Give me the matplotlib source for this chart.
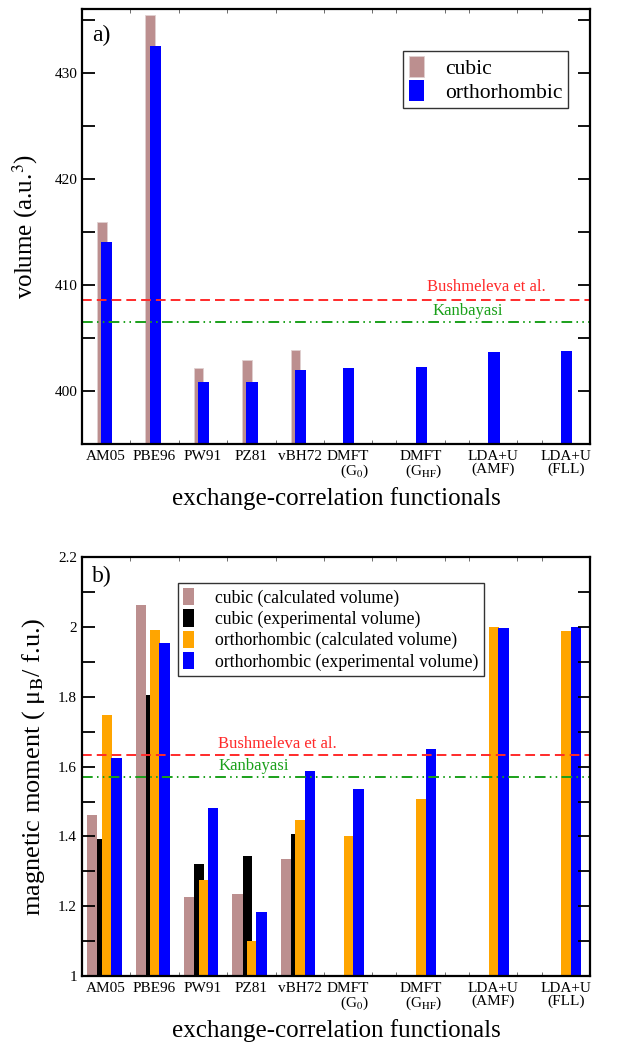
import numpy as np
import matplotlib
matplotlib.use("Agg")
import matplotlib.pyplot as plt
from matplotlib.ticker import MultipleLocator

plt.rcParams['font.family'] = ['Liberation Serif', 'DejaVu Serif']
plt.rcParams['mathtext.fontset'] = 'stix'

# functionals on the x axis
functionals = ["AM05", "PBE96", "PW91", "PZ81", "vBH72",
               "DMFT\n(G$_0$)", "DMFT\n(G$_{\\rm HF}$)", "LDA+U\n(AMF)", "LDA+U\n(FLL)"]
xpos = [1, 2, 3, 4, 5, 6, 7.5, 9, 10.5]

# a) equilibrium volume (a.u.^3), None where not calculated
vol_cubic = [415.9, 435.4, 402.2, 402.9, 403.9, None, None, None, None]
vol_ortho = [414.0, 432.5, 400.85, 400.85, 402.0, 402.15, 402.3, 403.65, 403.75]
vol_bushmeleva = 408.6
vol_kanbayasi = 406.5

# b) magnetic moment (mu_B / f.u.)
mom_cubic_calc = [1.461, 2.063, 1.226, 1.235, 1.334, None, None, None, None]
mom_cubic_exp = [1.393, 1.804, 1.322, 1.344, 1.407, None, None, None, None]
mom_ortho_calc = [1.748, 1.991, 1.275, 1.100, 1.447, 1.401, 1.507, 1.999, 1.989]
mom_ortho_exp = [1.626, 1.954, 1.481, 1.183, 1.587, 1.536, 1.650, 1.996, 2.000]
mom_bushmeleva = 1.633
mom_kanbayasi = 1.569

C_CUBIC = "#bc8f8f"
C_BLACK = "#000000"
C_ORANGE = "#ffa500"
C_BLUE = "#0000ff"
C_RED = "#ff2a2a"
C_GREEN = "#1aa01a"


def bars(ax, values, offset, width, color, label, edge=None):
    xs = [x + offset for x, v in zip(xpos, values) if v is not None]
    vs = [v for v in values if v is not None]
    ax.bar(xs, vs, width=width, align='edge', color=color, label=label,
           edgecolor=edge if edge else color, linewidth=0.6 if edge else 0)


def style_axes(ax):
    ax.set_xlim(0.5, 11.0)
    ax.set_xticks(xpos)
    ax.set_xticklabels(functionals, fontsize=11, linespacing=1.0)
    for lab in ax.get_xticklabels():
        if lab.get_text().startswith("DMFT"):
            lab.set_multialignment('right')
    ax.xaxis.set_minor_locator(MultipleLocator(0.5))
    ax.tick_params(axis='x', which='major', length=0, pad=4)
    ax.tick_params(axis='x', which='minor', direction='in', length=3,
                   width=0.6, top=True, bottom=True, color='#555555')
    ax.tick_params(axis='y', which='both', direction='in', left=True,
                   right=True, labelsize=11, width=1.3, length=9)
    for sp in ax.spines.values():
        sp.set_linewidth(1.6)
    ax.set_xlabel("exchange-correlation functionals", fontsize=18, labelpad=5)


def ref_lines(ax, y_red, y_green):
    ax.axhline(y_red, color=C_RED, lw=1.4, ls=(0, (5, 2.6)))
    ax.axhline(y_green, color=C_GREEN, lw=1.4,
               ls=(0, (5.5, 2.2, 0.8, 2.2, 0.8, 2.2)))


fig = plt.figure(figsize=(6.25, 10.45), dpi=100)

# ---- panel a) volume
axa = fig.add_axes([0.1312, 0.5751, 0.8128, 0.4163])
bars(axa, vol_cubic, -0.19, 0.2, C_CUBIC, "cubic", edge="#e0d0d0")
bars(axa, vol_ortho, -0.10, 0.23, C_BLUE, "orthorhombic")
ref_lines(axa, vol_bushmeleva, vol_kanbayasi)
axa.set_ylim(395, 436)
axa.yaxis.set_major_locator(MultipleLocator(10))
axa.yaxis.set_minor_locator(MultipleLocator(5))
style_axes(axa)
axa.set_ylabel("volume (a.u.$^3$)", fontsize=18, labelpad=10)
axa.text(0.02, 0.94, "a)", transform=axa.transAxes, fontsize=17, va='center')
ytr = axa.get_yaxis_transform()
axa.text(0.68, vol_bushmeleva + 0.4, "Bushmeleva et al.", color=C_RED,
         fontsize=12, va='bottom', transform=ytr)
axa.text(0.69, vol_kanbayasi + 0.25, "Kanbayasi", color=C_GREEN,
         fontsize=12, va='bottom', transform=ytr)
leg = axa.legend(loc='upper right', bbox_to_anchor=(0.957, 0.904),
                 fontsize=15.5, frameon=True, fancybox=False, handlelength=0.7,
                 handleheight=1.1, handletextpad=1.0, borderpad=0.25,
                 labelspacing=0.05, borderaxespad=0)
leg.get_frame().set_edgecolor('black')
leg.get_frame().set_linewidth(1.0)

# ---- panel b) magnetic moment
axb = fig.add_axes([0.1312, 0.066, 0.8128, 0.4007])
bars(axb, mom_cubic_calc, -0.39, 0.21, C_CUBIC, "cubic (calculated volume)")
bars(axb, mom_cubic_exp, -0.18, 0.2, C_BLACK, "cubic (experimental volume)")
bars(axb, mom_ortho_calc, -0.09, 0.21, C_ORANGE, "orthorhombic (calculated volume)")
bars(axb, mom_ortho_exp, 0.10, 0.22, C_BLUE, "orthorhombic (experimental volume)")
ref_lines(axb, mom_bushmeleva, mom_kanbayasi)
axb.set_ylim(1.0, 2.2)
axb.yaxis.set_major_locator(MultipleLocator(0.2))
axb.yaxis.set_minor_locator(MultipleLocator(0.1))
axb.yaxis.set_major_formatter(plt.FuncFormatter(lambda v, p: f"{v:g}"))
style_axes(axb)
axb.set_ylabel("magnetic moment ( μ$_{\\rm B}$/ f.u.)", fontsize=19, labelpad=8)
axb.text(0.02, 0.955, "b)", transform=axb.transAxes, fontsize=17, va='center')
ytr = axb.get_yaxis_transform()
axb.text(0.268, mom_bushmeleva + 0.008, "Bushmeleva et al.", color=C_RED,
         fontsize=12, va='bottom', transform=ytr)
axb.text(0.268, mom_kanbayasi + 0.01, "Kanbayasi", color=C_GREEN,
         fontsize=12, va='bottom', transform=ytr)
leg = axb.legend(loc='upper left', bbox_to_anchor=(0.189, 0.939),
                 fontsize=12.8, frameon=True, fancybox=False, handlelength=0.6,
                 handleheight=1.1, handletextpad=1.2, borderpad=0.3,
                 labelspacing=0.15, borderaxespad=0)
leg.get_frame().set_edgecolor('black')
leg.get_frame().set_linewidth(1.0)

fig.savefig("out.png", dpi=100)
